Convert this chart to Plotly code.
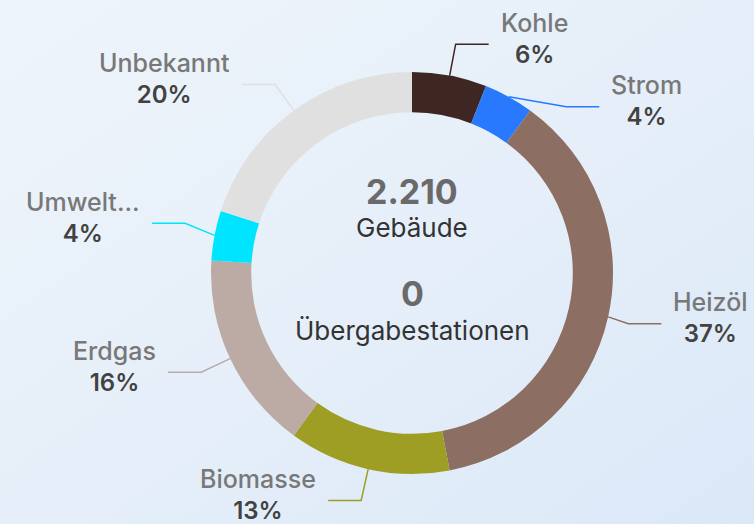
import math, base64
import plotly.graph_objects as go

# ---- data ----
categories = ["Kohle", "Strom", "Heizöl", "Biomasse", "Erdgas", "Umwelt...", "Unbekannt"]
shares = [6, 4, 37, 13, 16, 4, 20]
colors = ["#3e2723", "#2979ff", "#8d6e63", "#9e9d24", "#bcaaa4", "#00e5ff", "#e0e0e0"]
center_values = ["2.210", "0"]
center_labels = ["Gebäude", "Übergabestationen"]

# ---- layout constants (pixels) ----
W, H = 754, 524
CX, CY, R = 412, 273, 201
HOLE = 0.8
RADIAL = 32
HORIZ = 33
GAP = 10
NUDGE = {"Strom": (42, 38), "Heizöl": (-11, 0), "Umwelt...": (2, -6)}

def px(x):
    return x / W

def py(y):
    return 1 - y / H

fig = go.Figure()
fig.add_trace(go.Pie(
    labels=categories, values=shares, sort=False, direction="clockwise",
    rotation=0, hole=HOLE, textinfo="none", hoverinfo="label+percent",
    marker=dict(colors=colors, line=dict(width=0)),
    domain=dict(x=[px(CX - R), px(CX + R)], y=[py(CY + R), py(CY - R)]),
    showlegend=False,
))

total = sum(shares)
cum = 0
shapes = []
annotations = []
for name, v, col in zip(categories, shares, colors):
    mid = (cum + v / 2) / total * 2 * math.pi
    cum += v
    sx, sy = math.sin(mid), -math.cos(mid)
    x0, y0 = CX + R * sx, CY + R * sy
    ex, ey = CX + (R + RADIAL) * sx, CY + (R + RADIAL) * sy
    dx, dy = NUDGE.get(name, (0, 0))
    ex, ey = ex + dx, ey + dy
    right = sx >= 0
    x2 = ex + HORIZ if right else ex - HORIZ
    path = f"M {px(x0)},{py(y0)} L {px(ex)},{py(ey)} L {px(x2)},{py(ey)}"
    shapes.append(dict(type="path", xref="paper", yref="paper", path=path,
                       line=dict(color=col, width=1.5), layer="above"))
    pct = f"{round(v / total * 100)}%"
    annotations.append(dict(
        xref="paper", yref="paper",
        x=px(x2 + GAP if right else x2 - GAP), y=py(ey - 6),
        xanchor="left" if right else "right", yanchor="middle",
        align="center", showarrow=False,
        text=f"<span style='color:#787878;font-weight:500;font-size:25px'>{name}</span><br>"
             f"<span style='color:#424242;font-weight:600'>{pct}</span>",
        font=dict(family="Inter, sans-serif", size=24),
    ))

# center texts
center_y = [(191, 228), (293, 330)]
for (vy, ly), val, lab in zip(center_y, center_values, center_labels):
    annotations.append(dict(xref="paper", yref="paper", x=px(CX), y=py(vy),
                            xanchor="center", yanchor="middle", showarrow=False,
                            text=f"<b>{val}</b>",
                            font=dict(family="Inter, sans-serif", size=34, color="#6a6a6a")))
    annotations.append(dict(xref="paper", yref="paper", x=px(CX), y=py(ly),
                            xanchor="center", yanchor="middle", showarrow=False,
                            text=lab,
                            font=dict(family="Inter, sans-serif", size=26, color="#333333")))

svg = (f"<svg xmlns='http://www.w3.org/2000/svg' width='{W}' height='{H}'>"
       "<defs><linearGradient id='g' x1='0' y1='0' x2='1' y2='1'>"
       "<stop offset='0' stop-color='#eef4fb'/>"
       "<stop offset='0.5' stop-color='#e6eff9'/>"
       "<stop offset='1' stop-color='#dbe8f8'/>"
       "</linearGradient></defs>"
       f"<rect width='{W}' height='{H}' fill='url(#g)'/></svg>")
src = "data:image/svg+xml;base64," + base64.b64encode(svg.encode()).decode()

fig.update_layout(
    width=W, height=H, margin=dict(l=0, r=0, t=0, b=0),
    paper_bgcolor="#e6eff9", plot_bgcolor="rgba(0,0,0,0)",
    shapes=shapes, annotations=annotations,
    images=[dict(source=src, xref="paper", yref="paper", x=0, y=1,
                 sizex=1, sizey=1, xanchor="left", yanchor="top",
                 sizing="stretch", layer="below")],
    font=dict(family="Inter, sans-serif"),
)

fig.write_html("out.html", config={"displayModeBar": False},
               post_script="document.body.style.margin='0';")
